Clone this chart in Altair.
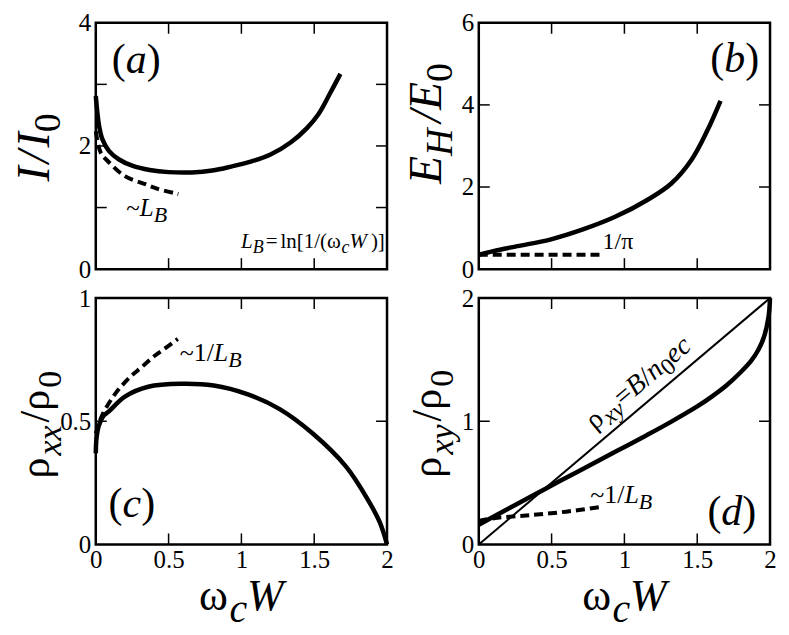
import altair as alt
import pandas as pd

FONT = "Liberation Serif, Times New Roman, DejaVu Serif, serif"
PW, PH = 292, 247
TICK = 11
LABEL_SIZE = 25

# ---------------- data ----------------
x_label_vals = [0, 0.5, 1, 1.5, 2]
x_tick_vals = [0.5, 1.0, 1.5]

# (a) I/I0
a_y_labels = [0, 2, 4]
a_y_ticks = [1, 2, 3]
a_solid_x = [0, 0.023, 0.045, 0.09, 0.16, 0.25, 0.37, 0.5, 0.66, 0.8, 0.93, 1.07, 1.2, 1.34, 1.45, 1.53, 1.61, 1.68]
a_solid_y = [2.81, 2.32, 2.11, 1.92, 1.78, 1.68, 1.61, 1.575, 1.57, 1.6, 1.665, 1.75, 1.86, 2.06, 2.29, 2.52, 2.86, 3.17]
a_dash_x = [0, 0.034, 0.08, 0.2, 0.34, 0.43, 0.567]
a_dash_y = [2.24, 1.89, 1.76, 1.51, 1.38, 1.30, 1.22]

# (b) E_H/E_0
b_y_labels = [0, 2, 4, 6]
b_y_ticks = [2, 4]
b_solid_x = [0, 0.1, 0.265, 0.49, 0.71, 0.94, 1.16, 1.32, 1.46, 1.57, 1.66]
b_solid_y = [0.35, 0.44, 0.56, 0.72, 0.96, 1.28, 1.69, 2.08, 2.66, 3.38, 4.1]
b_dash_x = [0, 0.85]
b_dash_y = [0.35, 0.35]

# (c) rho_xx/rho_0
c_y_labels = [0, 0.5, 1]
c_y_ticks = [0.5]
c_solid_x = [0, 0.005, 0.02, 0.05, 0.09, 0.2, 0.36, 0.585, 0.81, 1.04, 1.26, 1.49, 1.72, 1.87, 1.95, 2.0]
c_solid_y = [0.37, 0.43, 0.48, 0.52, 0.54, 0.6, 0.64, 0.652, 0.645, 0.61, 0.55, 0.45, 0.315, 0.18, 0.09, 0.0]
c_dash_x = [0, 0.043, 0.133, 0.235, 0.314, 0.405, 0.472, 0.563]
c_dash_y = [0.45, 0.523, 0.611, 0.679, 0.719, 0.766, 0.794, 0.834]

# (d) rho_xy/rho_0
d_y_labels = [0, 1, 2]
d_y_ticks = [1]
d_solid_x = [0, 0.1, 0.25, 0.4, 0.55, 0.75, 0.95, 1.15, 1.32, 1.5, 1.6, 1.7, 1.8, 1.87, 1.92, 1.96, 1.99, 2.0]
d_solid_y = [0.16, 0.225, 0.32, 0.415, 0.51, 0.635, 0.76, 0.885, 0.995, 1.12, 1.2, 1.29, 1.4, 1.49, 1.58, 1.69, 1.85, 2.0]
d_dash_x = [0, 0.13, 0.286, 0.42, 0.6, 0.835]
d_dash_y = [0.19, 0.217, 0.231, 0.245, 0.266, 0.304]
d_line_x = [0, 2]
d_line_y = [0, 2]

# ---------------- text helpers ----------------
# approximate advance widths (em) of a Times-metric serif face
W_ROMAN = {'.': 0.25, '/': 0.278, '(': 0.333, ')': 0.333, '[': 0.333, ']': 0.333,
           '=': 0.564, '~': 0.541, 'l': 0.278, 'n': 0.5, ' ': 0.25,
           'ρ': 0.55, 'ω': 0.69, 'π': 0.55}
W_ITALIC = {'I': 0.333, 'E': 0.611, 'H': 0.722, 'L': 0.556, 'B': 0.611, 'W': 0.833,
            'a': 0.5, 'b': 0.5, 'c': 0.444, 'd': 0.5, 'x': 0.444, 'y': 0.444,
            'e': 0.444, 'n': 0.5, '/': 0.278}


def tw(s, italic, size):
    tbl = W_ITALIC if italic else W_ROMAN
    return sum(tbl.get(ch, W_ROMAN.get(ch, 0.5)) for ch in s) * size


def rich(pieces, x, y, size, sub_size=None, sub_shift=0, angle=0, align="left", base_dy=0):
    """pieces: (text, italic, sub, gap_before_px)"""
    sub_size = sub_size or size
    ws = []
    for p in pieces:
        t, it, sb = p[0], p[1], p[2]
        gap = p[3] if len(p) > 3 else 0
        ws.append((gap, tw(t, it, sub_size if sb else size)))
    total = sum(g + w for g, w in ws)
    cum = {"left": 0, "center": -total / 2, "right": -total}[align]
    out = []
    for p, (gap, w) in zip(pieces, ws):
        t, it, sb = p[0], p[1], p[2]
        cum += gap
        out.append(
            alt.Chart(pd.DataFrame({"s": [t]}))
            .mark_text(font=FONT, fontSize=sub_size if sb else size,
                       fontStyle="italic" if it else "normal", align="left",
                       baseline="alphabetic", dx=cum,
                       dy=base_dy + (sub_shift if sb else 0), angle=angle, color="black")
            .encode(x=x, y=y, text="s:N")
        )
        cum += w
    return out


# ---------------- panel builder ----------------
def panel(ydom, ylabels, yticks, curves, texts_fn, show_x_labels):
    xs = alt.Scale(domain=[0, 2], nice=False, zero=False)
    ys = alt.Scale(domain=ydom, nice=False, zero=False)
    common = dict(ticks=False, domain=False, grid=False, title=None,
                  labelFont=FONT, labelFontSize=LABEL_SIZE, labelColor="black",
                  labelFlush=False, labelOverlap=False)
    xa = alt.Axis(values=x_label_vals, format="~g", labelPadding=3, **common) if show_x_labels else None
    ya = alt.Axis(values=ylabels, format="~g", labelPadding=5, **common)

    def X(field=None, datum=None):
        if datum is not None:
            return alt.XDatum(datum, scale=xs, axis=xa)
        return alt.X(field, scale=xs, axis=xa)

    def Y(field=None, datum=None):
        if datum is not None:
            return alt.YDatum(datum, scale=ys, axis=ya)
        return alt.Y(field, scale=ys, axis=ya)

    layers = []
    for cx, cy, width, dash in curves:
        mk = dict(color="black", strokeWidth=width, interpolate="catmull-rom")
        if dash:
            mk["strokeDash"] = dash
        layers.append(alt.Chart(pd.DataFrame({"x": cx, "y": cy}))
                      .mark_line(**mk).encode(x=X("x:Q"), y=Y("y:Q")))
    rule = dict(color="black", strokeWidth=1.5)
    dfx = pd.DataFrame({"v": x_tick_vals})
    dfy = pd.DataFrame({"v": yticks})
    layers.append(alt.Chart(dfx).mark_rule(**rule).encode(x=X("v:Q"), y=alt.value(0), y2=alt.value(TICK)))
    layers.append(alt.Chart(dfx).mark_rule(**rule).encode(x=X("v:Q"), y=alt.value(PH), y2=alt.value(PH - TICK)))
    layers.append(alt.Chart(dfy).mark_rule(**rule).encode(y=Y("v:Q"), x=alt.value(0), x2=alt.value(TICK)))
    layers.append(alt.Chart(dfy).mark_rule(**rule).encode(y=Y("v:Q"), x=alt.value(PW), x2=alt.value(PW - TICK)))
    layers += texts_fn(X, Y)
    return alt.layer(*layers).properties(width=PW, height=PH)


def letter(ch, X, Y, x, y):
    return rich([("(", 0, 0), (ch, 1, 0), (")", 0, 0)], X(datum=x), Y(datum=y), 42)


def xtitle():
    return rich([("ω", 0, 0), ("c", 1, 1), ("W", 1, 0)], alt.value(PW / 2), alt.value(PH + 66),
                44, 40, 12, align="center")


def texts_a(X, Y):
    t = letter("a", X, Y, 0.11, 3.19)
    t += rich([("~", 0, 0), ("L", 1, 0), ("B", 1, 1)], X(datum=0.21), Y(datum=0.86), 25, 22, 6)
    t += rich([("L", 1, 0), ("B", 1, 1), ("=", 0, 0, 2), ("ln[1/(ω", 0, 0, 3), ("c", 1, 1),
               ("W", 1, 0), (")]", 0, 0, 4)],
              X(datum=1.985), Y(datum=0.35), 21, 18, 5, align="right")
    t += rich([("I", 1, 0), ("/", 1, 0, 3), ("I", 1, 0, 3), ("0", 0, 1)],
              alt.value(-47), alt.value(125), 46, 38, 11, angle=270, align="center")
    return t


def texts_b(X, Y):
    t = letter("b", X, Y, 1.59, 4.79)
    t += rich([("1/π", 0, 0)], X(datum=0.85), Y(datum=0.48), 24)
    t += rich([("E", 1, 0), ("H", 1, 1), ("/", 1, 0, 6), ("E", 1, 0), ("0", 0, 1)],
              alt.value(-38), alt.value(101), 46, 38, 11, angle=270, align="center")
    return t


def texts_c(X, Y):
    t = letter("c", X, Y, 0.088, 0.113)
    t += rich([("~1/", 0, 0), ("L", 1, 0), ("B", 1, 1)], X(datum=0.576), Y(datum=0.745), 26, 22, 6)
    t += rich([("ρ", 0, 0), ("xx", 1, 1), ("/", 0, 0, 3), ("ρ", 0, 0), ("0", 0, 1)],
              alt.value(-47), alt.value(127), 42, 34, 12, angle=270, align="center")
    t += xtitle()
    return t


def texts_d(X, Y):
    t = letter("d", X, Y, 1.57, 0.154)
    t += rich([("~1/", 0, 0), ("L", 1, 0), ("B", 1, 1)], X(datum=0.765), Y(datum=0.34), 26, 22, 6)
    t += rich([("ρ", 0, 0), ("xy", 1, 1), ("=", 0, 0), ("B", 1, 0), ("/", 0, 0), ("n", 1, 0),
               ("0", 0, 1), ("ec", 1, 0)],
              X(datum=0.85), Y(datum=0.85), 28, 24, 6, angle=320, base_dy=-12)
    t += rich([("ρ", 0, 0), ("xy", 1, 1), ("/", 0, 0, 3), ("ρ", 0, 0), ("0", 0, 1)],
              alt.value(-38), alt.value(126), 42, 34, 12, angle=270, align="center")
    t += xtitle()
    return t


DASH = [9, 5]
pa = panel([0, 4], a_y_labels, a_y_ticks,
           [(a_solid_x, a_solid_y, 4.5, None), (a_dash_x, a_dash_y, 4, DASH)], texts_a, False)
pb = panel([0, 6], b_y_labels, b_y_ticks,
           [(b_solid_x, b_solid_y, 4.5, None), (b_dash_x, b_dash_y, 4, DASH)], texts_b, False)
pc = panel([0, 1], c_y_labels, c_y_ticks,
           [(c_solid_x, c_solid_y, 4.5, None), (c_dash_x, c_dash_y, 4, DASH)], texts_c, True)
pd_ = panel([0, 2], d_y_labels, d_y_ticks,
            [(d_line_x, d_line_y, 2, None), (d_solid_x, d_solid_y, 4.5, None),
             (d_dash_x, d_dash_y, 4, DASH)], texts_d, True)

chart = (
    alt.concat(pa, pb, pc, pd_, columns=2, spacing={"row": 0, "column": 4})
    .properties(padding={"left": 2, "top": 0, "right": 0, "bottom": 0}, background="white")
    .configure_view(stroke="black", strokeWidth=2.5)
)

chart.save("out.html", embed_options={"renderer": "svg", "actions": False})
